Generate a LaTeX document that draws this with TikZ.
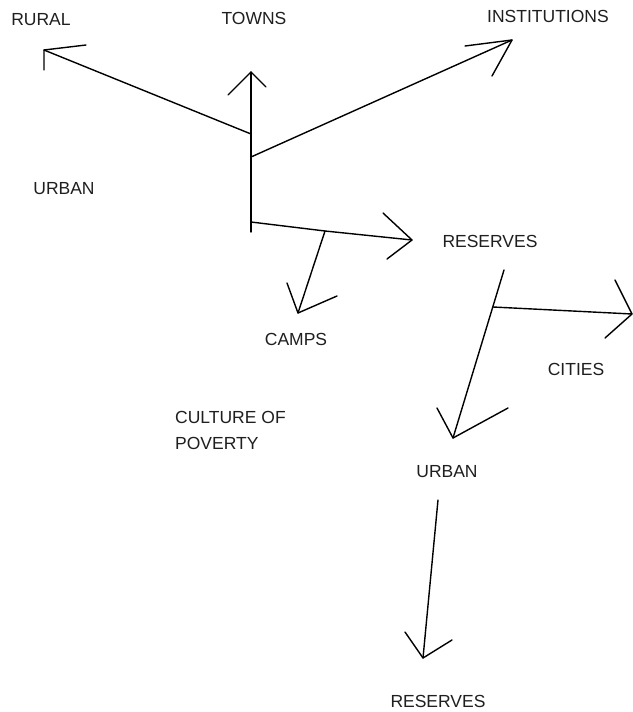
\documentclass[tikz,border=0pt]{standalone}
\usepackage{fontspec}
\setmainfont{Liberation Sans}
\begin{document}
\begin{tikzpicture}[x=1pt,y=-1pt]

\tikzset{word/.style = {font=\fontsize{17.5}{26}\selectfont, text=black!88, inner sep=0pt}}
\tikzset{stroke/.style = {line width=1.4pt, line cap=round, line join=round}}
\fill[white] (0,0) rectangle (632,712);
\useasboundingbox (0,0) rectangle (632,712);
%labels
\node[word] (rural) at (41,20) {RURAL};
\node[word] (towns) at (254,18) {TOWNS};
\node[word] (institutions) at (548,16) {INSTITUTIONS};
\node[word] (urban1) at (64,189) {URBAN};
\node[word] (reserves1) at (490,241) {RESERVES};
\node[word] (camps) at (296,339) {CAMPS};
\node[word] (cities) at (576,369) {CITIES};
\node[word, align=left, anchor=north west] (poverty) at (175,411) {CULTURE OF\\POVERTY};
\node[word] (urban2) at (447,472) {URBAN};
\node[word] (reserves2) at (438,701) {RESERVES};
%points
\coordinate (foot) at (251,232);
\coordinate (forkrural) at (251,134);
\coordinate (forkinst) at (251,157);
\coordinate (forkres) at (251,222);
\coordinate (forkcamps) at (325,231);
\coordinate (forkcities) at (493,307);
\coordinate (startres) at (504,270);
\coordinate (startbottom) at (438,500);
\coordinate (tiptowns) at (251,72);
\coordinate (tiprural) at (44,50);
\coordinate (tipinst) at (512,40);
\coordinate (tipres) at (412,240);
\coordinate (tipcamps) at (298,313);
\coordinate (tipurban) at (453,438);
\coordinate (tipcities) at (632,314);
\coordinate (tipbottom) at (423,658);
%arrows
\draw[stroke] (foot) -- (tiptowns);
\draw[stroke] (tiptowns) -- ++(-23,23) (tiptowns) -- ++(15,15);
\draw[stroke] (forkrural) -- (tiprural);
\draw[stroke] (tiprural) -- ++(0,20) (tiprural) -- ++(42,-5);
\draw[stroke] (forkinst) -- (tipinst);
\draw[stroke] (tipinst) -- ++(-47,6) (tipinst) -- ++(-20,36);
\draw[stroke] (forkres) -- (forkcamps) -- (tipres);
\draw[stroke] (tipres) -- ++(-29,-27) (tipres) -- ++(-25,19);
\draw[stroke] (forkcamps) -- (tipcamps);
\draw[stroke] (tipcamps) -- ++(-11,-30) (tipcamps) -- ++(39,-17);
\draw[stroke] (startres) -- (tipurban);
\draw[stroke] (tipurban) -- ++(-16,-30) (tipurban) -- ++(55,-30);
\draw[stroke] (forkcities) -- (tipcities);
\draw[stroke] (tipcities) -- ++(-17,-34) (tipcities) -- ++(-27,24);
\draw[stroke] (startbottom) -- (tipbottom);
\draw[stroke] (tipbottom) -- ++(-18,-26) (tipbottom) -- ++(29,-18);

\end{tikzpicture}
\end{document}
